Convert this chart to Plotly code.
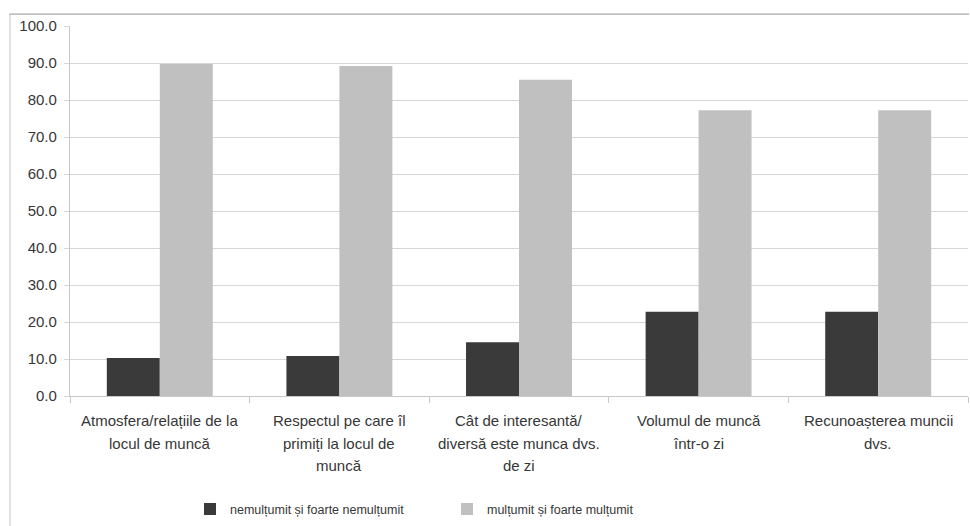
import plotly.graph_objects as go

# Survey results: share of respondents (%) by aspect of work
categories = [
    "Atmosfera/relațiile de la locul de muncă",
    "Respectul pe care îl primiți la locul de muncă",
    "Cât de interesantă/ diversă este munca dvs. de zi",
    "Volumul de muncă într-o zi",
    "Recunoașterea muncii dvs.",
]
# Wrapped lines for the category captions under the axis
category_lines = [
    ["Atmosfera/relațiile de la", "locul de muncă"],
    ["Respectul pe care îl", "primiți la locul de", "muncă"],
    ["Cât de interesantă/", "diversă este munca dvs.", "de zi"],
    ["Volumul de muncă", "într-o zi"],
    ["Recunoașterea muncii", "dvs."],
]
series_names = ["nemulțumit și foarte nemulțumit", "mulțumit și foarte mulțumit"]
nemultumit = [10.3, 10.8, 14.5, 22.8, 22.8]
multumit = [89.7, 89.2, 85.5, 77.2, 77.2]
y_ticks = [0, 10, 20, 30, 40, 50, 60, 70, 80, 90, 100]

W, H = 970, 526
ML, MR, MT, MB = 70, 2, 26, 128
plot_w = W - ML - MR
plot_h = H - MT - MB

FONT = "Liberation Sans, Arial, sans-serif"
TXT = "#363636"
GRID = "#d6d6d6"

fig = go.Figure()
fig.add_trace(go.Bar(x=categories, y=nemultumit, name=series_names[0],
                     marker=dict(color="#3a3a3a", line=dict(width=0))))
fig.add_trace(go.Bar(x=categories, y=multumit, name=series_names[1],
                     marker=dict(color="#c0c0c0", line=dict(width=0))))

# Multi-line category captions with generous line spacing
line_step = 22.5
first_line = 24.5
for cat, lines in zip(categories, category_lines):
    for i, txt in enumerate(lines):
        fig.add_annotation(
            x=cat, xref="x", y=0, yref="paper",
            text=txt, showarrow=False,
            xanchor="center", yanchor="middle",
            yshift=-(first_line + i * line_step),
            font=dict(family=FONT, size=15, color=TXT),
        )


def px_x(px):
    return (px - ML) / plot_w


def px_y(py):
    return (H - MB - py) / plot_h


# Chart-area frame (top and left edges)
fig.add_shape(type="line", xref="paper", yref="paper",
              x0=px_x(9), x1=px_x(969), y0=px_y(14), y1=px_y(14),
              line=dict(color="#a8a8a8", width=1.2))
fig.add_shape(type="line", xref="paper", yref="paper",
              x0=px_x(10), x1=px_x(10), y0=px_y(14), y1=px_y(530),
              line=dict(color="#d0d0d0", width=1.2))

fig.update_layout(
    width=W, height=H,
    margin=dict(l=ML, r=MR, t=MT, b=MB, pad=0),
    paper_bgcolor="white", plot_bgcolor="white",
    barmode="group", bargap=0.41, bargroupgap=0,
    font=dict(family=FONT, size=15, color=TXT),
    showlegend=True,
    legend=dict(
        orientation="h",
        x=px_x(190), xanchor="left",
        y=px_y(512), yanchor="middle",
        font=dict(family=FONT, size=12.5, color=TXT),
        entrywidth=212, entrywidthmode="pixels",
        bgcolor="rgba(0,0,0,0)", borderwidth=0,
        traceorder="normal",
    ),
    xaxis=dict(
        type="category",
        showticklabels=False,
        showline=True, linecolor="#c8c8c8", linewidth=1.2,
        ticks="outside", tickson="boundaries", ticklen=6,
        tickcolor="#c8c8c8", tickwidth=1.2,
        showgrid=False, zeroline=False,
    ),
    yaxis=dict(
        range=[0, 100], tickvals=y_ticks, tickformat=".1f",
        showgrid=True, gridcolor=GRID, gridwidth=1.2,
        showline=True, linecolor="#c8c8c8", linewidth=1.2,
        ticks="outside", ticklen=5, tickcolor=GRID, tickwidth=1.2,
        zeroline=False,
        tickfont=dict(family=FONT, size=15, color=TXT),
        ticklabelstandoff=4,
    ),
)

fig.write_html("out.html")
